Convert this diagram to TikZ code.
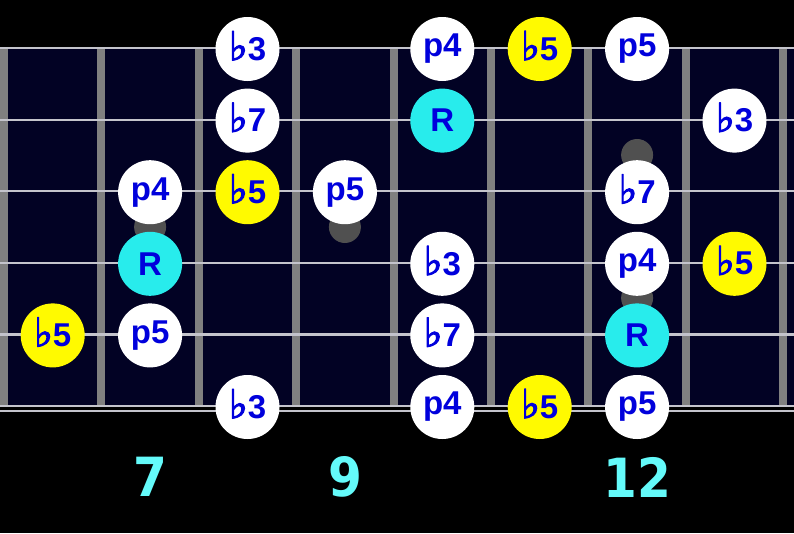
\documentclass[tikz,border=0pt]{standalone}
\usepackage{fontspec}
\setmainfont{Liberation Sans}
\newfontfamily\flatfont[FakeBold=2.5]{DejaVu Sans}
\newfontfamily\fretfont{DejaVu Sans Condensed}
\definecolor{board}{RGB}{2,2,36}
\definecolor{fretgray}{RGB}{128,128,128}
\definecolor{stringgray}{RGB}{196,196,204}
\definecolor{markgray}{RGB}{80,80,80}
\definecolor{noteblue}{RGB}{0,0,220}
\definecolor{rootcyan}{RGB}{40,236,236}
\definecolor{fiveyellow}{RGB}{255,250,0}
\definecolor{numcyan}{RGB}{100,250,250}
\newcommand{\fl}{\smash{\flatfont\fontsize{40}{40}\selectfont ♭}}
\tikzset{
  fretbar/.style={color=fretgray, line width=8pt},
  stringline/.style={color=stringgray, line width=2.2pt},
  note/.style={circle, fill=white, minimum size=64pt, inner sep=0pt,
    text=noteblue, font=\bfseries\fontsize{33}{33}\selectfont},
  rootnote/.style={note, fill=rootcyan},
  flatfive/.style={note, fill=fiveyellow},
  fretnum/.style={text=numcyan, font=\fretfont\bfseries\fontsize{54}{54}\selectfont}
}
\begin{document}
\begin{tikzpicture}[x=1pt,y=-1pt]
\useasboundingbox (0,0) rectangle (794,533);
\fill[color=black] (0,0) rectangle (794,533);
\fill[color=board] (0,48) rectangle (794,406);

% frets
\foreach \i in {0,...,8}
  \draw[fretbar] (4+97.4*\i,48) -- (4+97.4*\i,406);

% position dots
\fill[color=markgray] (150.1,227) circle (16);
\fill[color=markgray] (344.9,227) circle (16);
\fill[color=markgray] (637.1,155) circle (16);
\fill[color=markgray] (637.1,298) circle (16);

% strings
\foreach \j in {0,...,5}
  \draw[stringline] (0,48+71.6*\j) -- (794,48+71.6*\j);
\draw[stringline] (0,411) -- (794,411);

% notes: column/string/label/style
\foreach \c/\s/\t/\k in {2/0/\fl3/note, 4/0/p4/note, 5/0/\fl5/flatfive, 6/0/p5/note,
    2/1/\fl7/note, 4/1/R/rootnote, 7/1/\fl3/note,
    1/2/p4/note, 2/2/\fl5/flatfive, 3/2/p5/note, 6/2/\fl7/note,
    1/3/R/rootnote, 4/3/\fl3/note, 6/3/p4/note, 7/3/\fl5/flatfive,
    0/4/\fl5/flatfive, 1/4/p5/note, 4/4/\fl7/note, 6/4/R/rootnote,
    2/5/\fl3/note, 4/5/p4/note, 5/5/\fl5/flatfive, 6/5/p5/note}
  \node[\k] (n\c\s) at (52.7+97.4*\c,49+71.6*\s) {\t};

% fret numbers
\node[fretnum] (f7) at (150.1,477) {7};
\node[fretnum] (f9) at (344.9,477) {9};
\node[fretnum] (f12) at (637.1,477) {12};
\end{tikzpicture}
\end{document}
